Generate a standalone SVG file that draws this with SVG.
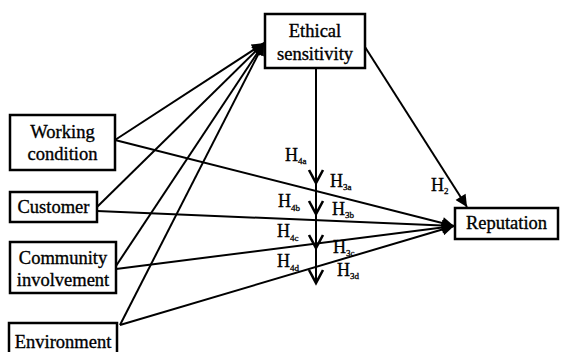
<svg xmlns="http://www.w3.org/2000/svg" width="561" height="352" viewBox="0 0 561 352">
<style>
.box{fill:#fff;stroke:#000;stroke-width:2.5}
.t{font-family:'Liberation Serif','DejaVu Serif',serif;font-size:18.5px;fill:#000;stroke:#000;stroke-width:0.35;text-anchor:middle}
.h{font-family:'Liberation Serif','DejaVu Serif',serif;font-size:18px;fill:#000;stroke:#000;stroke-width:0.3}
.s{font-size:9px}
.ln{stroke:#000;stroke-width:2;fill:none}
.chev{stroke:#000;stroke-width:2.6;fill:none}
</style>
<defs>
<marker id="ah2" viewBox="0 0 10 10" refX="10" refY="5" markerWidth="14" markerHeight="12" markerUnits="userSpaceOnUse" orient="auto">
<path d="M0,0 L10,5 L0,10 z" fill="#000"/>
</marker>
</defs>
<g id="connectors">
<line class="ln" x1="115" y1="140" x2="264" y2="43" marker-end="url(#ah2)"/>
<line class="ln" x1="97" y1="207" x2="264" y2="43" marker-end="url(#ah2)"/>
<line class="ln" x1="116" y1="266" x2="264" y2="43" marker-end="url(#ah2)"/>
<line class="ln" x1="120" y1="325" x2="264" y2="43" marker-end="url(#ah2)"/>
<line class="ln" x1="115" y1="140" x2="454" y2="226" marker-end="url(#ah2)"/>
<line class="ln" x1="97" y1="211" x2="454" y2="226" marker-end="url(#ah2)"/>
<line class="ln" x1="116" y1="269" x2="454" y2="226" marker-end="url(#ah2)"/>
<line class="ln" x1="120" y1="325" x2="454" y2="226" marker-end="url(#ah2)"/>
<line class="ln" x1="365" y1="47" x2="467" y2="207" marker-end="url(#ah2)"/>
<line class="ln" x1="316" y1="68" x2="316" y2="282"/>
<polyline class="chev" points="309,170 316,183 323,170"/>
<polyline class="chev" points="309,201 316,214 323,201"/>
<polyline class="chev" points="309,235 316,248 323,235"/>
<polyline class="chev" points="309,270 316,283 323,270"/>
</g>
<g id="ethical">
<rect class="box" x="265" y="14" width="100" height="54"/>
<text class="t" x="315" y="37">Ethical</text>
<text class="t" x="315" y="60">sensitivity</text>
</g>
<g id="working">
<rect class="box" x="10" y="115" width="105" height="55"/>
<text class="t" x="62.5" y="138">Working</text>
<text class="t" x="62.5" y="160">condition</text>
</g>
<g id="customer">
<rect class="box" x="10" y="192" width="87" height="30"/>
<text class="t" x="53.5" y="213">Customer</text>
</g>
<g id="community">
<rect class="box" x="10" y="242" width="106" height="51"/>
<text class="t" x="63" y="264">Community</text>
<text class="t" x="63" y="286">involvement</text>
</g>
<g id="environment">
<rect class="box" x="9" y="323" width="108" height="40"/>
<text class="t" x="63" y="348">Environment</text>
</g>
<g id="reputation">
<rect class="box" x="455" y="208" width="103" height="31"/>
<text class="t" x="506.5" y="229">Reputation</text>
</g>
<g id="labels">
<text class="h" x="285" y="161">H<tspan class="s" dy="3">4a</tspan></text>
<text class="h" x="330" y="187">H<tspan class="s" dy="3">3a</tspan></text>
<text class="h" x="278" y="207">H<tspan class="s" dy="4">4b</tspan></text>
<text class="h" x="332" y="215">H<tspan class="s" dy="3">3b</tspan></text>
<text class="h" x="277" y="237">H<tspan class="s" dy="4">4c</tspan></text>
<text class="h" x="333" y="253">H<tspan class="s" dy="3">3c</tspan></text>
<text class="h" x="277" y="267">H<tspan class="s" dy="4">4d</tspan></text>
<text class="h" x="337" y="276">H<tspan class="s" dy="3">3d</tspan></text>
<text class="h" x="431" y="191">H<tspan class="s" dy="3">2</tspan></text>
</g>
</svg>
